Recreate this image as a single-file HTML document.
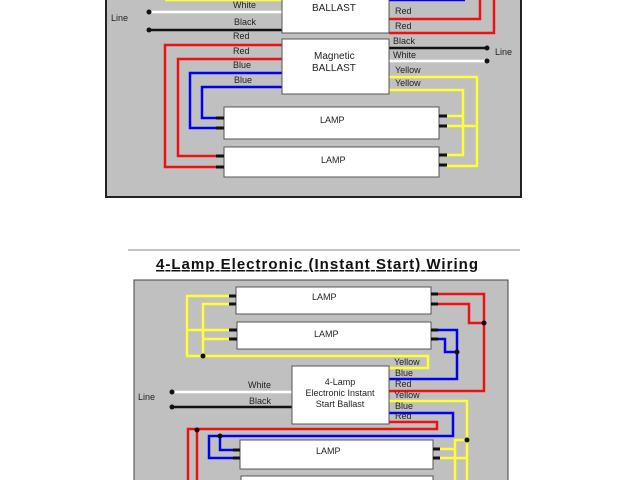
<!DOCTYPE html>
<html><head><style>html,body{margin:0;padding:0;background:#fff;width:640px;height:480px;overflow:hidden}</style></head>
<body>
<svg width="640" height="480" xmlns="http://www.w3.org/2000/svg" font-family="Liberation Sans, sans-serif" font-size="9">
<rect x="106" y="-5" width="415" height="202" fill="#c0c0c0" stroke="#222" stroke-width="2"/>
<g fill="none" stroke-width="2.5">
<polyline points="165,0 282,0" stroke="#ffff33"/>
<polyline points="389,0 465,0" stroke="#0000ee"/>
<polyline points="389,19 480,19 480,0" stroke="#ee1111"/>
<polyline points="389,33 494,33 494,0" stroke="#ee1111"/>
<polyline points="149,12 282,12" stroke="#fff"/>
<polyline points="149,30 282,30" stroke="#111"/>
<polyline points="389,48 487,48" stroke="#111"/>
<polyline points="389,61 487,61" stroke="#fff"/>
<polyline points="282,45 165,45 165,167 222,167" stroke="#ee1111"/>
<polyline points="282,59 178,59 178,156 222,156" stroke="#ee1111"/>
<polyline points="282,73 190,73 190,128 222,128" stroke="#0000ee"/>
<polyline points="282,87 202,87 202,118 222,118" stroke="#0000ee"/>
<polyline points="389,77 477,77 477,166 446,166" stroke="#ffff33"/>
<polyline points="389,90 463,90 463,155 446,155" stroke="#ffff33"/>
<polyline points="446,116 463,116" stroke="#ffff33"/>
<polyline points="446,126 477,126" stroke="#ffff33"/>
</g>
<g fill="#111"><circle cx="149" cy="12" r="2.5"/><circle cx="149" cy="30" r="2.5"/><circle cx="487" cy="48" r="2.5"/><circle cx="487" cy="61" r="2.5"/></g>
<rect x="282" y="-5" width="107" height="38" fill="#fff" stroke="#555"/>
<rect x="282" y="39" width="107" height="55" fill="#fff" stroke="#555"/>
<rect x="224" y="107" width="215" height="32" fill="#fff" stroke="#555"/>
<rect x="224" y="147" width="215" height="30" fill="#fff" stroke="#555"/>
<g stroke="#111" stroke-width="3"><line x1="216" y1="118" x2="224" y2="118"/><line x1="216" y1="128" x2="224" y2="128"/><line x1="216" y1="156" x2="224" y2="156"/><line x1="216" y1="167" x2="224" y2="167"/>
<line x1="439" y1="116" x2="447" y2="116"/><line x1="439" y1="126" x2="447" y2="126"/><line x1="439" y1="155" x2="447" y2="155"/><line x1="439" y1="165" x2="447" y2="165"/></g>
<g fill="#222">
<text x="312" y="11" font-size="10">BALLAST</text>
<text x="314" y="59" font-size="10">Magnetic</text><text x="312" y="71" font-size="10">BALLAST</text>
<text x="320" y="123">LAMP</text><text x="321" y="163">LAMP</text>
<text x="111" y="21">Line</text><text x="495" y="55">Line</text>
<text x="233" y="8">White</text><text x="234" y="25">Black</text><text x="233" y="39">Red</text><text x="233" y="54">Red</text><text x="233" y="68">Blue</text><text x="234" y="83">Blue</text>
<text x="395" y="14">Red</text><text x="395" y="29">Red</text><text x="393" y="44">Black</text><text x="393" y="58">White</text><text x="395" y="73">Yellow</text><text x="395" y="86">Yellow</text>
</g>
<line x1="128" y1="250" x2="520" y2="250" stroke="#888" stroke-width="1"/>
<text x="317" y="269" text-anchor="middle" font-size="15" font-weight="bold" fill="#111" text-decoration="underline" textLength="322">4-Lamp Electronic (Instant Start) Wiring</text>
<rect x="134" y="280" width="374" height="210" fill="#c0c0c0" stroke="#444" stroke-width="1"/>
<g fill="none" stroke-width="2.5">
<polyline points="234,296 187,296 187,356 428,356 428,368 389,368" stroke="#ffff33"/>
<polyline points="234,304 203,304 203,356" stroke="#ffff33"/>
<polyline points="234,330 187,330" stroke="#ffff33"/>
<polyline points="234,339 203,339" stroke="#ffff33"/>
<polyline points="433,294 484,294 484,391 389,391" stroke="#ee1111"/>
<polyline points="433,304 469,304 469,323 484,323" stroke="#ee1111"/>
<polyline points="433,330 457,330 457,379 389,379" stroke="#0000ee"/>
<polyline points="433,339 445,339 445,352 457,352" stroke="#0000ee"/>
<polyline points="172,392 292,392" stroke="#fff"/>
<polyline points="172,407 292,407" stroke="#111"/>
<polyline points="389,401 467,401 467,480" stroke="#ffff33"/>
<polyline points="467,440 455,440 455,480" stroke="#ffff33"/>
<polyline points="436,449 455,449" stroke="#ffff33"/>
<polyline points="436,458 467,458" stroke="#ffff33"/>
<polyline points="389,413 453,413 453,436 209,436 209,458 238,458" stroke="#0000ee"/>
<polyline points="220,436 220,450 238,450" stroke="#0000ee"/>
<polyline points="389,422 437,422 437,429 188,429 188,480" stroke="#ee1111"/>
<polyline points="197,429 197,480" stroke="#ee1111"/>
</g>
<g fill="#111"><circle cx="172" cy="392" r="2.5"/><circle cx="172" cy="407" r="2.5"/><circle cx="203" cy="356" r="2.5"/><circle cx="484" cy="323" r="2.5"/><circle cx="457" cy="352" r="2.5"/><circle cx="467" cy="440" r="2.5"/><circle cx="220" cy="436" r="2.5"/><circle cx="197" cy="430" r="2.5"/></g>
<rect x="236" y="287" width="195" height="27" fill="#fff" stroke="#555"/>
<rect x="237" y="322" width="194" height="27" fill="#fff" stroke="#555"/>
<rect x="292" y="366" width="97" height="58" fill="#fff" stroke="#555"/>
<rect x="240" y="440" width="193" height="29" fill="#fff" stroke="#555"/>
<rect x="241" y="476" width="192" height="10" fill="#fff" stroke="#555"/>
<g stroke="#111" stroke-width="3"><line x1="229" y1="296" x2="236" y2="296"/><line x1="229" y1="304" x2="236" y2="304"/><line x1="229" y1="330" x2="237" y2="330"/><line x1="229" y1="339" x2="237" y2="339"/>
<line x1="431" y1="294" x2="438" y2="294"/><line x1="431" y1="304" x2="438" y2="304"/><line x1="431" y1="330" x2="438" y2="330"/><line x1="431" y1="339" x2="438" y2="339"/>
<line x1="233" y1="450" x2="240" y2="450"/><line x1="233" y1="458" x2="240" y2="458"/><line x1="433" y1="449" x2="440" y2="449"/><line x1="433" y1="458" x2="440" y2="458"/></g>
<g fill="#222">
<text x="312" y="300">LAMP</text><text x="314" y="337">LAMP</text><text x="316" y="454">LAMP</text>
<text x="340" y="385" text-anchor="middle">4-Lamp</text><text x="340" y="396" text-anchor="middle">Electronic Instant</text><text x="340" y="407" text-anchor="middle">Start Ballast</text>
<text x="138" y="400">Line</text><text x="248" y="388">White</text><text x="249" y="404">Black</text>
<text x="394" y="365">Yellow</text><text x="395" y="376">Blue</text><text x="395" y="387">Red</text><text x="394" y="398">Yellow</text><text x="395" y="409">Blue</text><text x="395" y="419">Red</text>
</g>
</svg>
</body></html>
